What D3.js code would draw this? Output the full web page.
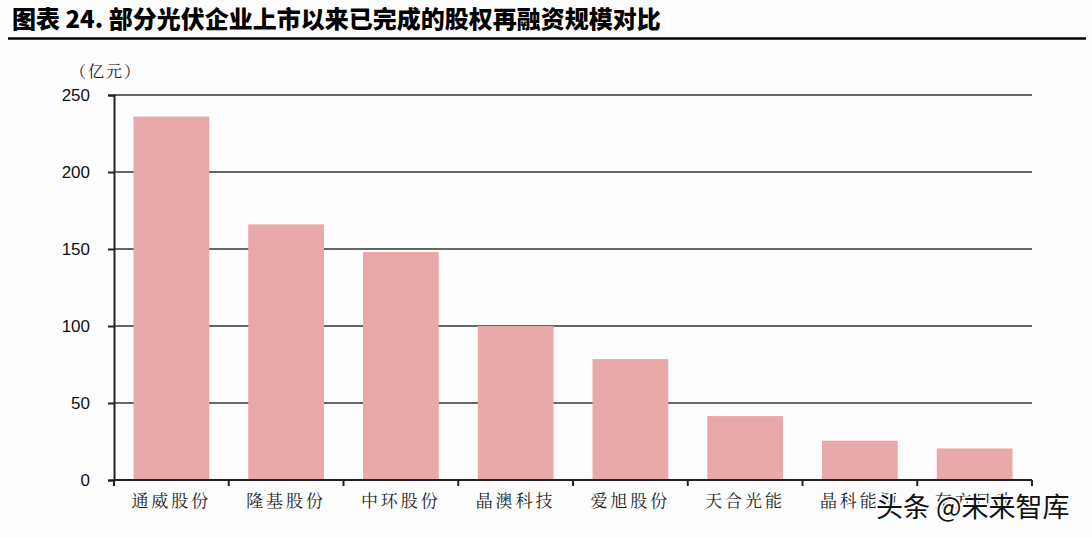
<!DOCTYPE html>
<html><head><meta charset="utf-8">
<script src="https://cdn.jsdelivr.net/npm/d3@7"></script>
<style>body{margin:0;background:#fefdfe;}svg{display:block;}</style>
</head><body>
<svg id="c" width="1092" height="538"></svg>
<script>
const categories = ["通威股份","隆基股份","中环股份","晶澳科技","爱旭股份","天合光能","晶科能源","东方日升"];
const values = [236, 166, 148, 100, 78.5, 41.5, 25.5, 20.5];
const yTicks = [0, 50, 100, 150, 200, 250];
const titleText = "图表 24. 部分光伏企业上市以来已完成的股权再融资规模对比";
const unitText = "（亿元）";
const watermark = "头条 @未来智库";

const svg = d3.select("#c");
const m = {l:114, r:1032, t:95, b:480};
const x = d3.scaleBand().domain(categories).range([m.l, m.r]).paddingInner(0.34).paddingOuter(0.17);
const y = d3.scaleLinear().domain([0,250]).range([m.b, m.t]);

svg.append("rect").attr("width",1092).attr("height",538).attr("fill","#fefdfe");

// title
svg.append("text").attr("x",12).attr("y",28).text(titleText)
  .attr("font-family","'Noto Sans CJK SC'").attr("font-weight",900).attr("font-size",24).attr("fill","#000");
svg.append("line").attr("x1",8).attr("x2",1086).attr("y1",38.5).attr("y2",38.5).attr("stroke","#000").attr("stroke-width",2.5);

// unit
svg.append("text").attr("x",70).attr("y",77).text(unitText)
  .attr("font-family","'Noto Serif CJK SC','Noto Sans CJK SC'").attr("font-size",16).attr("letter-spacing",2).attr("fill","#222");

// grid lines
svg.append("g").selectAll("line").data(yTicks.filter(d=>d>0)).join("line")
  .attr("x1",m.l).attr("x2",m.r).attr("y1",d=>y(d)).attr("y2",d=>y(d))
  .attr("stroke","#333").attr("stroke-width",1.5);

// bars
svg.append("g").selectAll("rect").data(values).join("rect")
  .attr("x",(d,i)=>x(categories[i])).attr("width",x.bandwidth())
  .attr("y",d=>y(d)).attr("height",d=>y(0)-y(d)).attr("fill","#e8a9a8");

// y axis
const ya = svg.append("g").attr("transform",`translate(${m.l},0)`)
  .call(d3.axisLeft(y).tickValues(yTicks).tickSize(6).tickPadding(18));
ya.select(".domain").attr("stroke","#222").attr("stroke-width",2);
ya.selectAll(".tick line").attr("stroke","#222").attr("stroke-width",2);
ya.selectAll("text").attr("font-family","Arimo, 'Liberation Sans', Arial").attr("font-size",17).attr("fill","#111");

// x axis
const bounds = d3.range(categories.length+1).map(i=>m.l + i*(m.r-m.l)/categories.length);
const xa = svg.append("g");
xa.append("line").attr("x1",m.l).attr("x2",m.r).attr("y1",m.b).attr("y2",m.b).attr("stroke","#222").attr("stroke-width",2);
xa.selectAll("line.t").data(bounds).join("line").attr("class","t")
  .attr("x1",d=>d).attr("x2",d=>d).attr("y1",m.b).attr("y2",m.b+6).attr("stroke","#222").attr("stroke-width",2);
xa.selectAll("text").data(categories).join("text")
  .attr("x",d=>x(d)+x.bandwidth()/2).attr("y",507).attr("text-anchor","middle")
  .attr("font-family","'Noto Serif CJK SC','Noto Sans CJK SC'").attr("font-size",17).attr("letter-spacing",3).attr("fill","#222")
  .text(d=>d);

// watermark
svg.append("text").attr("x",876).attr("y",517).text(watermark)
  .attr("font-family","'Noto Sans CJK SC'").attr("font-size",27).attr("fill","#111")
  .attr("stroke","#fff").attr("stroke-width",3).attr("paint-order","stroke");
</script>
</body></html>
